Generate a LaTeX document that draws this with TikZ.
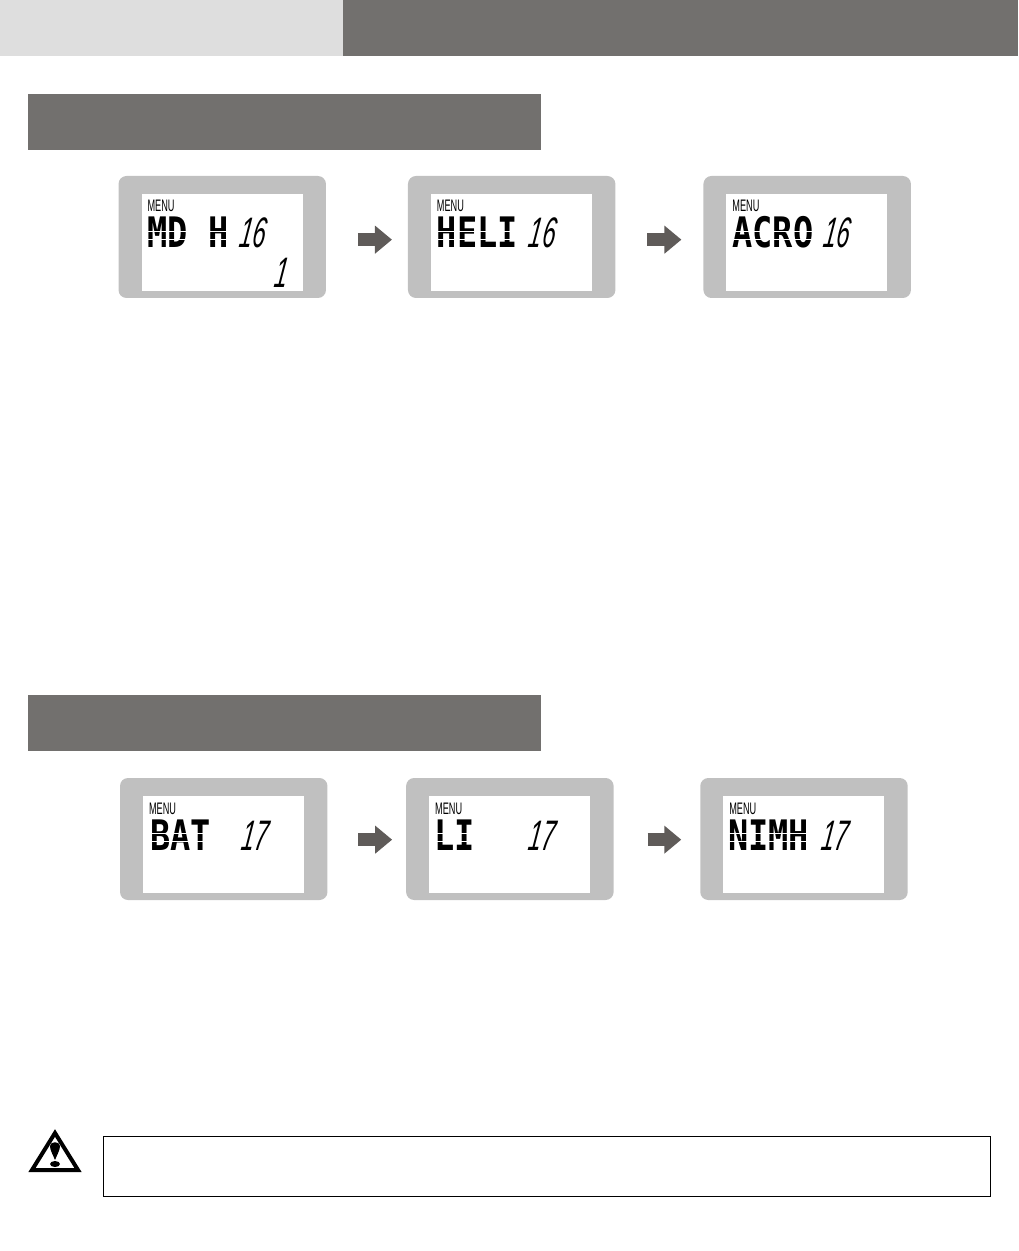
\documentclass[tikz,border=0pt]{standalone}
\usepackage{fontspec}
\usepackage{xcolor}
\usetikzlibrary{arrows.meta,positioning,calc}
\newfontfamily\menufont[FakeStretch=.55]{Liberation Sans}
\newfontfamily\wordfont[FakeStretch=.8]{DejaVu Sans Mono Bold}
\newfontfamily\numfont[FakeStretch=.55,FakeSlant=.15]{Liberation Sans Italic}
\definecolor{headc}{RGB}{114,112,110}
\definecolor{lightc}{RGB}{222,222,222}
\definecolor{panelc}{RGB}{192,192,192}
\definecolor{arrowc}{RGB}{95,91,89}

\begin{document}
\begin{tikzpicture}[x=.75pt, y=-.75pt, every node/.style={outer sep=0pt},
  bar/.style={fill=headc, anchor=north west, inner sep=0pt, minimum height=42pt},
  panel/.style={fill=panelc, rounded corners=6pt, anchor=north west, inner sep=0pt, minimum width=155.6pt, minimum height=91.5pt},
  screen/.style={fill=white, anchor=north west, inner sep=0pt, minimum width=120.75pt, minimum height=72.75pt},
  menu/.style={font=\menufont\fontsize{12.5}{12.5}\selectfont, anchor=base west, inner sep=0pt},
  word/.style={font=\wordfont\fontsize{31.5}{31.5}\selectfont, anchor=base west, inner sep=0pt},
  num/.style={font=\numfont\fontsize{32}{32}\selectfont, anchor=base west, inner sep=0pt},
  gap/.style={white, line width=.7pt},
  flow/.style={arrowc, line width=9.75pt, -{Triangle[length=12.75pt,width=20.25pt]}}]
  \useasboundingbox (0,0) rectangle (1018,1251);
  % title strips
  \node[bar, fill=lightc, minimum width=257.25pt] (headl) at (0,0) {};
  \node[bar, minimum width=506.25pt] (headr) at (343,0) {};
  \node[bar, minimum width=384.75pt] (barmodel) at (28,94) {};
  \node[bar, minimum width=384.75pt] (barbatt) at (28,695) {};
  % panels
  \node[panel] (mdh) at (118.5,176) {};
  \node[panel, right=61.5pt of mdh.north east, anchor=north west] (heli) {};
  \node[panel, right=66pt of heli.north east, anchor=north west] (acro) {};
  \node[panel] (bat) at (120,778) {};
  \node[panel, right=59pt of bat.north east, anchor=north west] (li) {};
  \node[panel, right=65pt of li.north east, anchor=north west] (nimh) {};
  \foreach \p/\w/\wx/\nx/\n in {mdh/MD H/6/97/16, heli/HELI/6/97/16, acro/ACRO/6/96/16,
      bat/BAT/7/97/17, li/LI/5/98/17, nimh/NIMH/5/97/17} {
    \node[screen] (scr\p) at ($(\p.north west)+(23,18)$) {};
    \node[menu] (menu\p) at ($(scr\p.north west)+(6,18)$) {MENU};
    \node[word] (word\p) at ($(scr\p.north west)+(\wx,54)$) {\w};
    \node[num] (num\p) at ($(scr\p.north west)+(\nx,54)$) {\n};
    % cut the letters into lcd segments
    \draw[gap] ($(word\p.base west)+(0,-17)$) -- ($(word\p.base east)+(0,-17)$);
    \draw[gap] ($(word\p.base west)+(0,-9)$) -- ($(word\p.base east)+(0,-9)$);
  }
  \node[num] (nummd) at ($(scrmdh.north west)+(132,94)$) {1};
  % arrows
  \draw[flow, shorten <=24pt, shorten >=12pt] ([yshift=-2pt]mdh.east) -- ([yshift=-2pt]heli.west);
  \draw[flow, shorten <=24pt, shorten >=16.5pt] ([yshift=-2pt]heli.east) -- ([yshift=-2pt]acro.west);
  \draw[flow, shorten <=23.25pt, shorten >=10.5pt] ([yshift=-.5pt]bat.east) -- ([yshift=-.5pt]li.west);
  \draw[flow, shorten <=25.5pt, shorten >=14.25pt] ([yshift=-.5pt]li.east) -- ([yshift=-.5pt]nimh.west);
  % warning
  \node[draw=black, line width=.75pt, anchor=north west, inner sep=0pt, minimum width=665.5pt, minimum height=45.25pt] (warnbox) at (103,1136) {};
  \draw[line width=3pt, miter limit=10] (55,1133) -- (78,1170) -- (32,1170) -- cycle;
  \fill (50,1146) .. controls (50,1141) and (60,1141) .. (60,1146) .. controls (60,1150) and (57,1155) .. (55,1160) .. controls (53,1155) and (50,1150) .. (50,1146) -- cycle;
  \fill (55,1164) ellipse [x radius=5, y radius=3];
\end{tikzpicture}
\end{document}
